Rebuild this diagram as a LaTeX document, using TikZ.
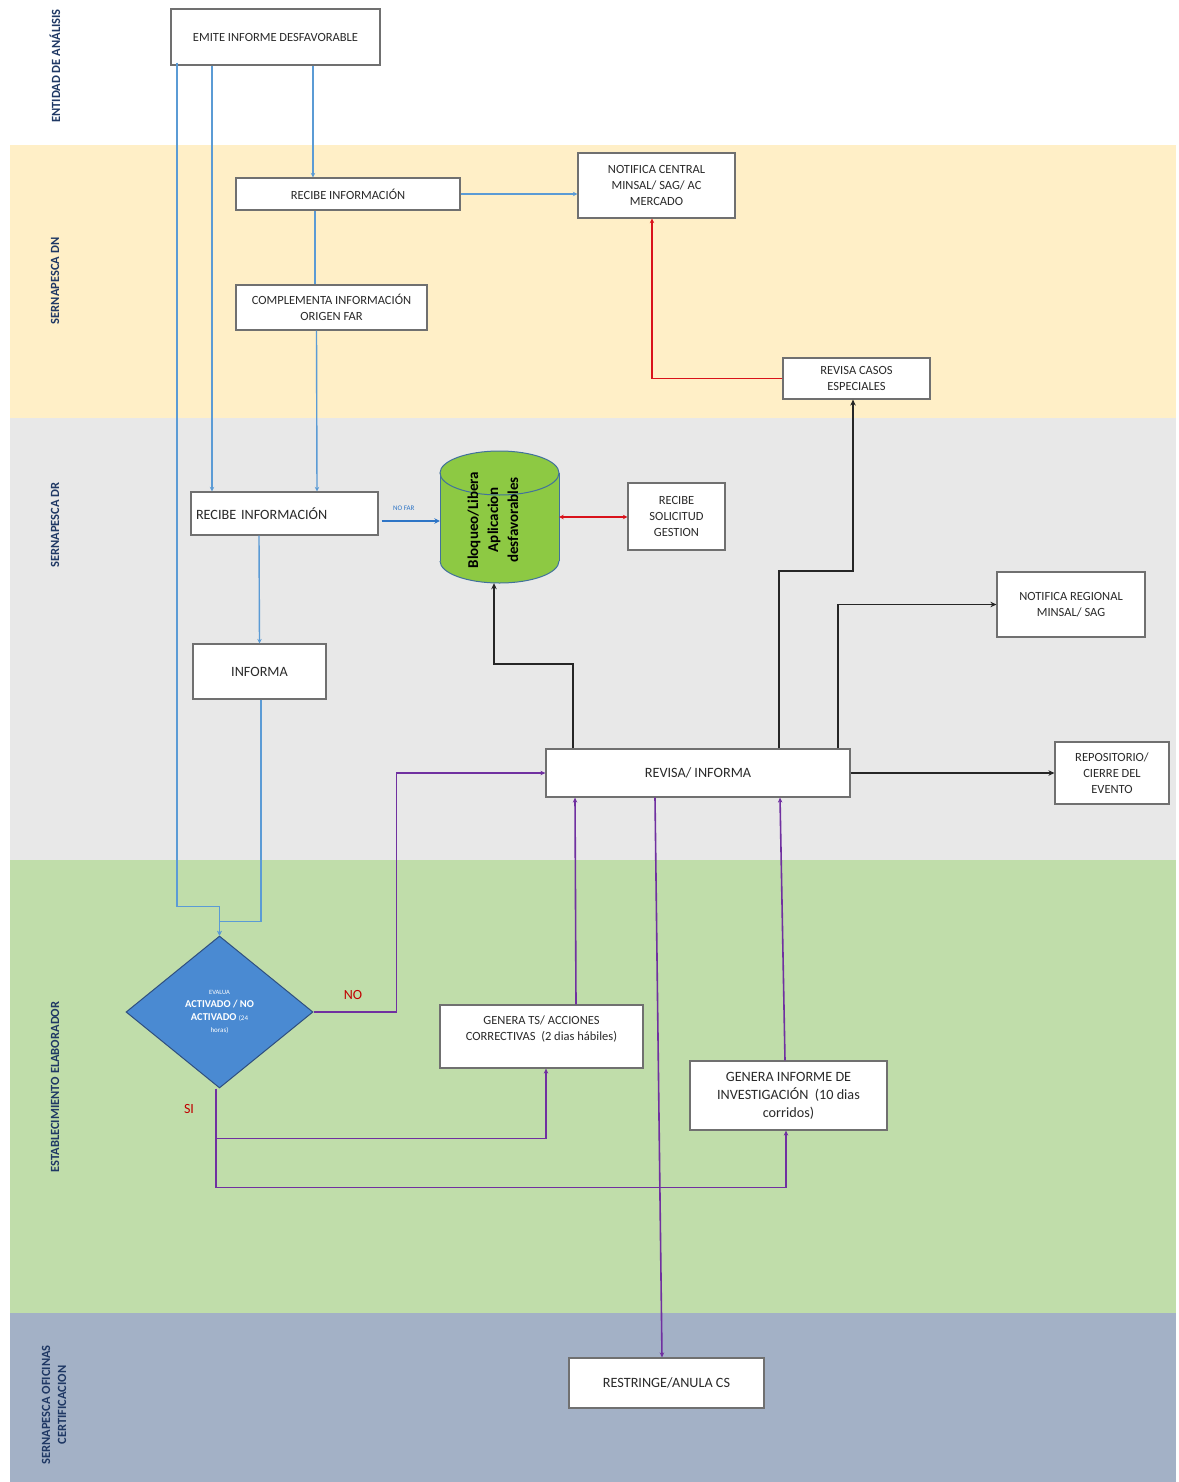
\documentclass[tikz,border=0pt]{standalone}
\usepackage{fontspec}
\setmainfont{Carlito}
\usetikzlibrary{arrows.meta,shapes.geometric}
\definecolor{cream}{HTML}{FFEFC7}
\definecolor{lgray}{HTML}{E8E8E8}
\definecolor{lgreen}{HTML}{C0DDAA}
\definecolor{bgray}{HTML}{A3B1C6}
\definecolor{navy}{HTML}{1F3864}
\definecolor{lblue}{HTML}{5B9BD5}
\definecolor{dblue}{HTML}{2E75C6}
\definecolor{cred}{HTML}{D9121B}
\definecolor{cpurple}{HTML}{7030A0}
\definecolor{bordergray}{HTML}{707070}
\definecolor{cylgreen}{HTML}{8DC943}
\definecolor{cylborder}{HTML}{41719C}
\definecolor{diafill}{HTML}{4A8AD2}
\definecolor{diaborder}{HTML}{2F4F7F}
\definecolor{txt}{HTML}{2A2A2A}
\definecolor{lblred}{HTML}{C00000}
\begin{document}
\begin{tikzpicture}[x=1pt,y=-1pt,
  box/.style={draw=bordergray, line width=1.2pt, fill=white, align=center, inner sep=2pt, text=txt},
  sm/.style={font=\fontsize{12.5}{16}\selectfont},
  lg/.style={font=\fontsize{14.2}{18}\selectfont},
  lane/.style={rotate=90, font=\bfseries\fontsize{12.5}{16}\selectfont, text=navy, align=center},
  bl/.style={draw=lblue, line width=1.4pt},
  bla/.style={bl, -{Stealth[length=4.5pt,width=4.5pt]}},
  rd/.style={draw=cred, line width=1.9pt},
  bk/.style={draw=black!85, line width=1.9pt, -{Stealth[length=6pt,width=5.5pt]}},
  pu/.style={draw=cpurple, line width=1.6pt, -{Stealth[length=5pt,width=4.5pt]}},
  redlbl/.style={text=lblred, font=\fontsize{14}{16}\selectfont},
]
\useasboundingbox (0,0) rectangle (1178,1482);
% lanes
\fill[white] (0,0) rectangle (1178,1482);
\fill[cream] (10,145) rectangle (1176,418);
\fill[lgray] (10,418) rectangle (1176,860);
\fill[lgreen] (10,860) rectangle (1176,1313);
\fill[bgray] (10,1313) rectangle (1176,1482);

\node[lane] (l1) at (55,66) {ENTIDAD DE ANÁLISIS};
\node[lane] (l2) at (55,281) {SERNAPESCA DN};
\node[lane] (l3) at (55,525) {SERNAPESCA DR};
\node[lane] (l4) at (55,1087) {ESTABLECIMIENTO ELABORADOR};
\node[lane] (l5) at (54,1405) {SERNAPESCA OFICINAS\\CERTIFICACION};

% boxes
\node[box, sm, minimum width=209pt, minimum height=56pt] (emite) at (275.5,37) {EMITE INFORME DESFAVORABLE};
\node[box, sm, minimum width=224pt, minimum height=32pt] (recdn) at (348,194) {RECIBE INFORMACIÓN};
\node[box, sm, minimum width=157pt, minimum height=65pt] (notc) at (656.5,185.5) {NOTIFICA CENTRAL\\MINSAL/ SAG/ AC\\MERCADO};
\node[box, sm, minimum width=191pt, minimum height=45pt] (compl) at (331.5,307.5) {COMPLEMENTA INFORMACIÓN\\ORIGEN FAR};
\node[box, sm, minimum width=147pt, minimum height=41pt] (revc) at (856.5,378.5) {REVISA CASOS\\ESPECIALES};
\node[box, lg, minimum width=187pt, minimum height=43pt, text width=177pt, align=left, inner sep=5pt] (recdr) at (284.5,513.5) {RECIBE INFORMACIÓN};
\node[box, sm, minimum width=97pt, minimum height=67pt] (recsol) at (676.5,516.5) {RECIBE\\SOLICITUD\\GESTION};
\node[box, sm, minimum width=148pt, minimum height=65pt] (notr) at (1071,604.5) {NOTIFICA REGIONAL\\MINSAL/ SAG};
\node[box, lg, minimum width=133pt, minimum height=55pt] (informa) at (259.5,671.5) {INFORMA};
\node[box, lg, minimum width=304pt, minimum height=48pt] (revisa) at (698,773) {REVISA/ INFORMA};
\node[box, sm, minimum width=114pt, minimum height=62pt] (repo) at (1112,773) {REPOSITORIO/\\CIERRE DEL\\EVENTO};
\node[box, minimum width=203pt, minimum height=63pt] (gts) at (541.5,1036.5) {};
\node[sm, text=txt, align=center] (gtstxt) at (541.5,1029) {GENERA TS/ ACCIONES\\CORRECTIVAS\ \ (2 dias hábiles)};
\node[box, lg, minimum width=197pt, minimum height=69pt] (ginf) at (788.5,1095.5) {GENERA INFORME DE\\INVESTIGACIÓN\ \ (10 dias\\corridos)};
\node[box, lg, minimum width=195pt, minimum height=50pt] (restr) at (666.5,1383) {RESTRINGE/ANULA CS};

% diamond
\node[diamond, aspect=1.23, draw=diaborder, line width=1pt, fill=diafill, minimum width=187pt, minimum height=152pt, inner sep=0pt, text=white, align=center, font=\fontsize{10.5}{12.8}\selectfont] (dia) at (219.5,1012)
  {{\fontsize{6.5}{8}\selectfont EVALUA}\\{\bfseries ACTIVADO / NO}\\{\bfseries ACTIVADO} {\fontsize{7}{8}\selectfont (24}\\{\fontsize{7}{8}\selectfont horas)}};

% cylinder
\fill[cylgreen] (440,473) rectangle (559,561);
\fill[cylgreen] (499.5,561) ellipse[x radius=59.5, y radius=22];
\fill[cylgreen] (499.5,473) ellipse[x radius=59.5, y radius=22];
\draw[cylborder, line width=1pt] (440,473) -- (440,561) (559,473) -- (559,561);
\begin{scope}
  \clip (430,561) rectangle (570,595);
  \draw[cylborder, line width=1pt] (499.5,561) ellipse[x radius=59.5, y radius=22];
\end{scope}
\draw[cylborder, line width=1pt] (499.5,473) ellipse[x radius=59.5, y radius=22];
\node[minimum width=119pt, minimum height=132pt, inner sep=0pt] (cyl) at (499.5,517) {};
\node[rotate=90, font=\bfseries\fontsize{15}{20}\selectfont, align=center, text=black] (cyltxt) at (493,520) {Bloqueo/Libera\\Aplicacion\\desfavorables};

% blue connectors
\draw[bla] ([xshift=37.5pt]emite.south) -- ([xshift=-35pt]recdn.north);
\draw[bla] ([xshift=-63.5pt]emite.south) -- ([xshift=-72.5pt]recdr.north);
\draw[bla] ([xshift=-98.5pt,yshift=3pt]emite.south) |- ([yshift=29pt]dia.north) -- (dia.north);
\draw[bla] (recdn.east) -- (recdn.east -| notc.west);
\draw[bl] ([xshift=-33pt]recdn.south) -- ([xshift=-16.5pt]compl.north);
\draw[bla] ([xshift=-15pt]compl.south) -- ([xshift=32.5pt]recdr.north);
\draw[draw=dblue, line width=1.8pt, -{Stealth[length=5.5pt,width=5.5pt]}] ([yshift=-7.5pt,xshift=3pt]recdr.east) -- ([yshift=-4pt]cyl.west)
  node[pos=0.38, above=6pt, text=dblue, font=\fontsize{7}{8}\selectfont] (nofar) {NO FAR};
\draw[bla] ([xshift=-25.5pt]recdr.south) -- (informa.north);
\draw[bla] ([xshift=1.5pt]informa.south) |- ([yshift=14pt]dia.north) -- (dia.north);

% red connectors
\draw[rd, {Stealth[length=4.5pt,width=4.5pt]}-{Stealth[length=4.5pt,width=4.5pt]}] (cyl.east) -- (cyl.east -| recsol.west);
\draw[rd, -{Stealth[length=4.5pt,width=4.5pt]}] (revc.west) -| ([xshift=-4.5pt]notc.south);

% black connectors
\draw[bk] ([xshift=-125pt]revisa.north) -- ++(0,-84) -| ([xshift=-5.5pt]cyl.south);
\draw[bk] ([xshift=81pt]revisa.north) -- ++(0,-177) -| ([xshift=-3.5pt]revc.south);
\draw[bk] ([xshift=140pt]revisa.north) |- (notr.west);
\draw[bk] (revisa.east) -- (revisa.east -| repo.west);

% purple connectors
\draw[pu] (dia.east) -- ++(83,0) |- (revisa.west);
\node[redlbl] (nolbl) at (353,995) {NO};
\draw[pu] ([xshift=34.5pt]gts.north) -- ([xshift=-123pt]revisa.south);
\draw[pu] ([xshift=-3.5pt]ginf.north) -- ([xshift=82pt]revisa.south);
\draw[pu] ([xshift=-43pt]revisa.south) -- ([xshift=-4.5pt]restr.north);
\draw[pu] ([xshift=-3.5pt]dia.south) -- ++(0,50) -| ([xshift=4.5pt]gts.south);
\draw[pu] ([xshift=-3.5pt]dia.south) -- ++(0,99) -| ([xshift=-2.5pt]ginf.south);
\node[redlbl] (silbl) at (189,1109) {SI};
\end{tikzpicture}
\end{document}
